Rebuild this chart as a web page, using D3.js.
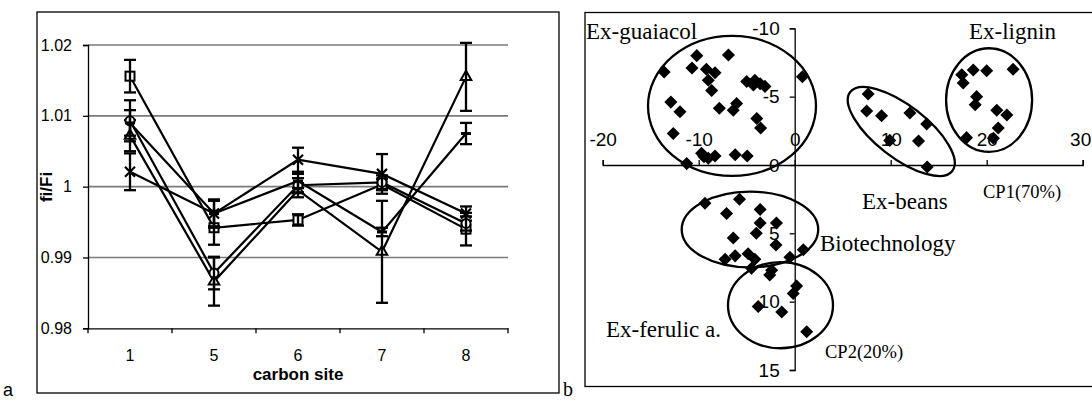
<!DOCTYPE html>
<html>
<head>
<meta charset="utf-8">
<script src="https://cdn.jsdelivr.net/npm/d3@7"></script>
<style>
  body { margin: 0; background: #fff; }
  svg { display: block; }
</style>
</head>
<body>
<svg id="chart" width="1092" height="402"></svg>
<script>
// ---- panel a : fi/Fi per carbon site ----
const carbonSites = ["1", "5", "6", "7", "8"];
const yTicksA = [0.98, 0.99, 1, 1.01, 1.02];

const squareVals = [1.0156, 0.9942, 0.9953, 1.0003, 0.9940];
const squareErr  = [0.0023, 0.0024, 0.0008, 0.0008, 0.0023];
const triVals    = [1.0072, 0.9866, 0.9995, 0.9908, 1.0155];
const triErr     = [0.0022, 0.0034, 0.0010, 0.0072, 0.0048];
const crossVals  = [1.0021, 0.9962, 1.0038, 1.0018, 0.9962];
const crossErr   = [0.0026, 0.0020, 0.0017, 0.0028, 0.0010];
const circleVals = [1.0093, 0.9878, 1.0002, 1.0006, 0.9948];
const circleErr  = [0.0029, 0.0023, 0.0010, 0.0010, 0.0010];
const dashVals   = [1.0090, 0.9962, 1.0008, 0.9936, 1.0075];
const dashErr    = [0.0018, 0.0018, 0.0010, 0.0006, 0.0015];

// ---- panel b : PCA scores ----
const xTicksB = [-20, -10, 0, 10, 20, 30];
const yTicksB = [-10, -5, 0, 5, 10, 15];
const guaiacolPts = [[-13.6,-6.8],[-10.2,-8.0],[-6.9,-8.05],[-10.7,-7.1],[-9.2,-7.0],[-8.3,-6.75],
  [-9.0,-6.2],[-8.65,-5.45],[-5.0,-6.1],[-4.15,-6.2],[-3.6,-5.95],[-3.1,-5.75],[-4.3,-5.85],
  [0.8,-6.45],[-12.9,-4.6],[-11.95,-3.9],[-7.85,-4.15],[-6.05,-4.5],[-6.4,-4.0],[-3.95,-3.4],
  [-3.55,-2.7],[-12.65,-2.3],[-9.7,-0.85],[-9.0,-0.5],[-8.3,-0.65],[-6.2,-0.75],[-4.95,-0.65],
  [-11.25,-0.1],[-9.45,-0.6]];
const beansPts = [[7.65,-5.2],[7.5,-3.95],[9.05,-3.6],[12.0,-3.8],[13.75,-3.0],[9.9,-1.8],[12.9,-1.75],[13.8,0.15]];
const ligninPts = [[17.4,-6.6],[18.6,-6.95],[20.0,-6.9],[22.75,-7.0],[17.55,-6.0],[18.95,-5.0],
  [18.8,-4.4],[21.05,-4.0],[22.1,-3.65],[21.2,-2.7],[20.7,-1.95],[17.9,-2.0]];
const biotechPts = [[-9.35,2.8],[-5.75,2.5],[-7.1,3.55],[-3.6,3.25],[-3.6,4.25],[-1.9,4.25],[-4.0,5.0],
  [-6.4,5.35],[-1.95,5.85],[0.9,6.2],[-7.25,6.9],[-6.2,6.65],[-4.85,6.5],[-4.15,6.9],[-0.5,6.75],
  [-4.5,7.55],[-2.6,8.05],[-2.4,7.7]];
const ferulicPts = [[0.2,8.85],[-0.15,9.4],[-3.8,10.35],[-1.35,10.75],[1.25,12.2]];

// cluster ellipses: centre, semi axes (data units), rotation
const clusterNames = ["guaiacol", "beans", "lignin", "biotech", "ferulic"];
const clusterCx    = [-6.53, 11.1, 20.25, -4.66, -1.48];
const clusterCy    = [-4.32, -2.45, -4.75, 4.72, 10.26];
const clusterRx    = [8.75, 6.72, 4.48, 7.11, 5.47];
const clusterRy    = [5.12, 1.9, 3.79, 2.77, 3.15];
const clusterAngle = [0, 37.7, 0, 0, 0];

const svg = d3.select("#chart");
const sans = "'Liberation Sans', Arial, sans-serif";
const serif = "'Liberation Serif', 'Times New Roman', serif";

drawPanelA();
drawPanelB();

function drawPanelA() {
  svg.append("rect").attr("x", 37).attr("y", 12).attr("width", 522).attr("height", 381)
    .attr("fill", "none").attr("stroke", "#000").attr("stroke-width", 1.3);

  let x = d3.scaleBand().domain(carbonSites).range([88, 508]);
  let y = d3.scaleLinear().domain([0.98, 1.02]).range([328.3, 45]);
  let cx = d => x(d) + x.bandwidth() / 2;

  // gridlines
  svg.append("g").selectAll("line").data(yTicksA.slice(1)).enter().append("line")
    .attr("x1", 88).attr("x2", 508)
    .attr("y1", d => y(d)).attr("y2", d => y(d))
    .attr("stroke", "#7a7a7a").attr("stroke-width", 1.6);

  let yAxis = svg.append("g").attr("transform", "translate(88,0)")
    .call(d3.axisLeft(y).tickValues(yTicksA).tickSize(5).tickPadding(11)
      .tickFormat(d => String(+d.toFixed(2))));
  yAxis.select(".domain").attr("stroke-width", 1.3);
  yAxis.selectAll("line").attr("stroke-width", 1.3);
  yAxis.selectAll("text").attr("font-family", sans).attr("font-size", 16).attr("fill", "#000");

  let xAxis = svg.append("g").attr("transform", "translate(0,328.3)")
    .call(d3.axisBottom(x).tickSize(0).tickPadding(21));
  xAxis.select(".domain").attr("stroke-width", 1.3);
  xAxis.selectAll("text").attr("font-family", sans).attr("font-size", 16).attr("fill", "#000");
  // ticks on the band edges
  xAxis.selectAll(".edge").data(d3.range(carbonSites.length + 1)).enter().append("line")
    .attr("class", "edge")
    .attr("x1", i => x.range()[0] + i * x.step()).attr("x2", i => x.range()[0] + i * x.step())
    .attr("y1", 0).attr("y2", 5).attr("stroke", "#000").attr("stroke-width", 1.3);

  svg.append("text").attr("x", 298).attr("y", 380).attr("text-anchor", "middle")
    .attr("font-family", sans).attr("font-weight", "bold").attr("font-size", 17).text("carbon site");
  svg.append("text").attr("transform", "translate(52,187) rotate(-90)").attr("text-anchor", "middle")
    .attr("font-family", sans).attr("font-weight", "bold").attr("font-size", 17).text("fi/Fi");
  svg.append("text").attr("x", 3).attr("y", 396)
    .attr("font-family", sans).attr("font-size", 18).text("a");

  let series = [
    { vals: squareVals, err: squareErr, mark: "square" },
    { vals: triVals, err: triErr, mark: "triangle" },
    { vals: crossVals, err: crossErr, mark: "cross" },
    { vals: circleVals, err: circleErr, mark: "circle" },
    { vals: dashVals, err: dashErr, mark: "dash" }
  ];

  let line = d3.line().x((d, i) => cx(carbonSites[i])).y(d => y(d));

  series.forEach(s => {
    let g = svg.append("g");
    g.append("path").attr("d", line(s.vals))
      .attr("fill", "none").attr("stroke", "#000").attr("stroke-width", 2.2);

    let pts = s.vals.map((v, i) => ({ site: carbonSites[i], v: v, e: s.err[i] }));
    let m = g.selectAll(".m").data(pts).enter().append("g")
      .attr("transform", d => "translate(" + cx(d.site) + "," + y(d.v) + ")");
    if (s.mark == "square") {
      m.append("rect").attr("x", -4.5).attr("y", -4.5).attr("width", 9).attr("height", 9)
        .attr("fill", "#fff").attr("stroke", "#000").attr("stroke-width", 2);
    } else if (s.mark == "triangle") {
      m.append("path").attr("d", d3.symbol(d3.symbolTriangle, 48)())
        .attr("fill", "#fff").attr("stroke", "#000").attr("stroke-width", 2);
    } else if (s.mark == "circle") {
      m.append("circle").attr("r", 4.5)
        .attr("fill", "#fff").attr("stroke", "#000").attr("stroke-width", 2);
    } else if (s.mark == "cross") {
      m.append("path").attr("d", "M-5,-5L5,5M-5,5L5,-5")
        .attr("stroke", "#000").attr("stroke-width", 2.2);
    } else {
      m.append("path").attr("d", "M-5,0L5,0")
        .attr("stroke", "#000").attr("stroke-width", 3);
    }

    // error bars
    let eb = g.selectAll(".eb").data(pts).enter().append("g").attr("stroke", "#000").attr("stroke-width", 2.3);
    eb.append("line").attr("x1", d => cx(d.site)).attr("x2", d => cx(d.site))
      .attr("y1", d => y(d.v - d.e)).attr("y2", d => y(d.v + d.e));
    eb.append("line").attr("x1", d => cx(d.site) - 6).attr("x2", d => cx(d.site) + 6)
      .attr("y1", d => y(d.v - d.e)).attr("y2", d => y(d.v - d.e));
    eb.append("line").attr("x1", d => cx(d.site) - 6).attr("x2", d => cx(d.site) + 6)
      .attr("y1", d => y(d.v + d.e)).attr("y2", d => y(d.v + d.e));
  });
}

function drawPanelB() {
  svg.append("rect").attr("x", 585).attr("y", 12.5).attr("width", 530).attr("height", 374)
    .attr("fill", "none").attr("stroke", "#000").attr("stroke-width", 1.3);
  svg.append("text").attr("x", 563).attr("y", 396)
    .attr("font-family", serif).attr("font-size", 20).text("b");

  let x = d3.scaleLinear().domain([-20, 30]).range([602.7, 1082.7]);
  let y = d3.scaleLinear().domain([-10, 15]).range([28.3, 370]);

  let xAxis = svg.append("g").attr("transform", "translate(0," + y(0) + ")")
    .call(d3.axisTop(x).tickValues(xTicksB).tickSize(5).tickPadding(14).tickFormat(d => String(d)));
  let yAxis = svg.append("g").attr("transform", "translate(" + x(0) + ",0)")
    .call(d3.axisLeft(y).tickValues(yTicksB).tickSize(5).tickPadding(10).tickFormat(d => String(d)));
  [xAxis, yAxis].forEach(a => {
    a.select(".domain").attr("stroke-width", 1.3);
    a.selectAll("line").attr("stroke-width", 1.3);
    a.selectAll("text").attr("font-family", sans).attr("font-size", 19).attr("fill", "#000");
  });
  // last label sits against the page edge
  xAxis.selectAll(".tick text").filter(d => d == 30).attr("text-anchor", "end").attr("dx", 8);

  let allPts = guaiacolPts.concat(beansPts, ligninPts, biotechPts, ferulicPts);
  let diamond = d3.symbol(d3.symbolSquare, 85);
  svg.append("g").selectAll("path").data(allPts).enter().append("path")
    .attr("d", diamond)
    .attr("transform", d => "translate(" + x(d[0]) + "," + y(d[1]) + ") rotate(45)")
    .attr("fill", "#000");

  svg.append("g").selectAll("ellipse").data(clusterNames).enter().append("ellipse")
    .attr("cx", (d, i) => x(clusterCx[i]))
    .attr("cy", (d, i) => y(clusterCy[i]))
    .attr("rx", (d, i) => x(clusterRx[i]) - x(0))
    .attr("ry", (d, i) => y(clusterRy[i]) - y(0))
    .attr("transform", (d, i) => "rotate(" + clusterAngle[i] + "," + x(clusterCx[i]) + "," + y(clusterCy[i]) + ")")
    .attr("fill", "none").attr("stroke", "#000").attr("stroke-width", 2.3);

  let labels = [
    ["Ex-guaiacol", 586, 39.3, 23], ["Ex-lignin", 969, 39.3, 23], ["Ex-beans", 862, 209.3, 23],
    ["Biotechnology", 820, 250.7, 23], ["Ex-ferulic a.", 606, 337.3, 23],
    ["CP1(70%)", 983, 198.3, 18.5], ["CP2(20%)", 825, 358.3, 18.5]
  ];
  svg.append("g").selectAll("text").data(labels).enter().append("text")
    .attr("x", d => d[1]).attr("y", d => d[2])
    .attr("font-family", serif).attr("font-size", d => d[3])
    .text(d => d[0]);
}
</script>
</body>
</html>
